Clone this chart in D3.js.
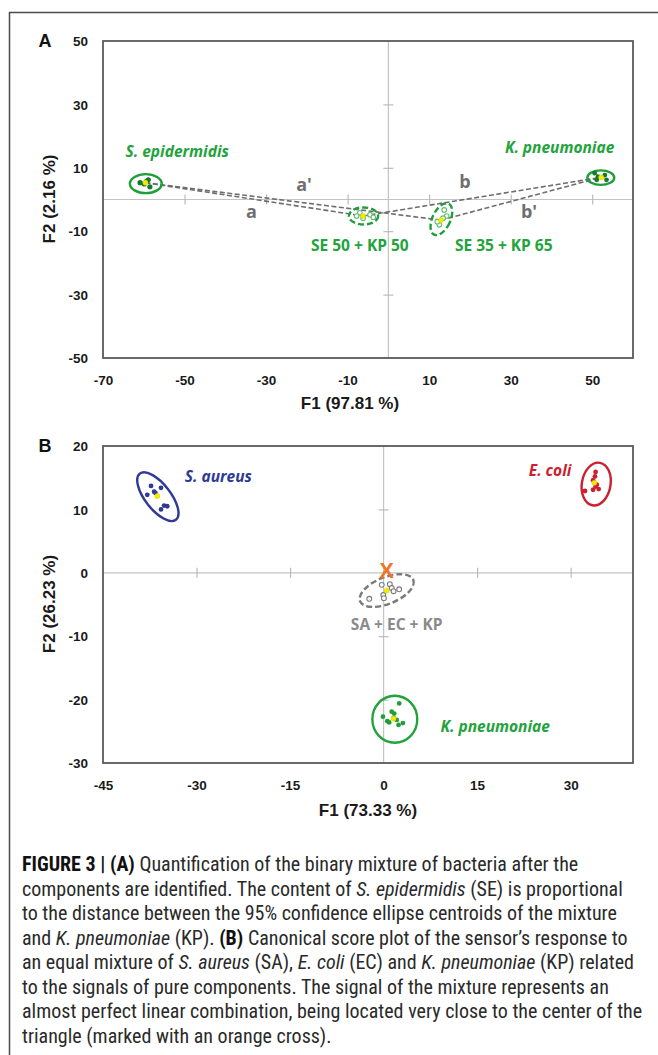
<!DOCTYPE html>
<html>
<head>
<meta charset="utf-8">
<script src="https://cdn.jsdelivr.net/npm/d3@7"></script>
<style>
  body { margin: 0; background: #fff; }
  svg { display: block; }
  .tick-lab text { font-family: "Liberation Sans", Arial, sans-serif; font-weight: bold; font-size: 13.5px; fill: #1a1a1a; }
  .ax-title { font-family: "Liberation Sans", Arial, sans-serif; font-weight: bold; font-size: 17px; fill: #1a1a1a; }
  .panel-letter { font-family: "Liberation Sans", Arial, sans-serif; font-weight: bold; font-size: 18px; fill: #111; }
  .grp-lab { font-family: "Open Sans", Lato, sans-serif; font-weight: bold; font-size: 15.5px; }
  .caption { font-family: "Liberation Sans Narrow", "Roboto Condensed", "Arial Narrow", sans-serif; font-size: 20px; fill: #2a2a2a; }
</style>
</head>
<body>
<script>
// ---------- panel A data (F1 97.81 %, F2 2.16 %) ----------
const aXTicks = [-70, -50, -30, -10, 10, 30, 50];
const aYTicks = [50, 30, 10, -10, -30, -50];
const aAxisTicksX = [-50, -30, -10, 10, 30, 50];
const aAxisTicksY = [30, 10, -10, -30];

const sePts = [[-60.9, 5.3], [-59.9, 4.9], [-58.9, 6.2], [-58.5, 4.0], [-59.3, 5.7]];
const kpPtsA = [[50.6, 8.3], [51.4, 7.2], [53.1, 7.7], [53.5, 6.2], [51.1, 6.2]];
const mix5050Pts = [[-7.0, -4.2], [-6.2, -5.9], [-4.5, -4.8], [-3.7, -5.6], [-7.8, -5.2]];
const mix3565Pts = [[13.7, -3.3], [14.3, -5.2], [12.5, -8.0], [12.0, -7.0], [13.4, -5.9]];

const centroidsA = [
  { id: "SE", x: -59.6, y: 5.3 },
  { id: "M5050", x: -6.2, y: -5.2 },
  { id: "M3565", x: 12.9, y: -6.5 },
  { id: "KP", x: 52.2, y: 7.0 }
];
const ellipsesA = [
  { id: "SE", cx: -59.5, cy: 5.0, rx: 3.9, ry: 3.0, rot: 0, dashed: false },
  { id: "KP", cx: 52.1, cy: 6.9, rx: 3.3, ry: 2.3, rot: 0, dashed: false },
  { id: "M5050", cx: -6.1, cy: -5.2, rx: 3.6, ry: 2.7, rot: 0, dashed: true },
  { id: "M3565", cx: 13.0, cy: -6.2, rx: 2.2, ry: 5.4, rot: 25, dashed: true }
];
const linksA = [["SE", "M5050"], ["M5050", "KP"], ["SE", "M3565"], ["M3565", "KP"]];
const labelsA = [
  { t: "S. epidermidis", x: -51.8, y: 15.0, italic: true, c: "#22a33b" },
  { t: "K. pneumoniae", x: 42.0, y: 16.3, italic: true, c: "#22a33b" },
  { t: "SE 50 + KP 50", x: -7.0, y: -14.4, italic: false, c: "#22a33b" },
  { t: "SE 35 + KP 65", x: 28.3, y: -14.4, italic: false, c: "#22a33b" }
];
const distLabels = [
  { t: "a", x: -33.6, y: -3.9 },
  { t: "a'", x: -20.7, y: 4.6 },
  { t: "b", x: 18.8, y: 5.6 },
  { t: "b'", x: 34.5, y: -3.9 }
];

// ---------- panel B data (F1 73.33 %, F2 26.23 %) ----------
const bXTicks = [-45, -30, -15, 0, 15, 30];
const bYTicks = [20, 10, 0, -10, -20, -30];
const bAxisTicksX = [-30, -15, 15, 30];
const bAxisTicksY = [10, -10, -20];

const saPts = [[-37.3, 13.7], [-35.7, 13.4], [-36.8, 12.8], [-37.9, 12.3], [-36.6, 12.6], [-35.2, 10.6], [-34.7, 10.5], [-35.7, 10.0]];
const ecPts = [[34.0, 15.9], [33.9, 15.2], [33.6, 14.6], [34.2, 13.9], [34.5, 13.2], [33.6, 13.1], [32.3, 12.9], [34.0, 13.6]];
const kpPtsB = [[2.5, -20.6], [-0.1, -22.7], [0.6, -23.4], [0.9, -23.6], [1.6, -22.9], [1.7, -22.2], [2.1, -23.2], [2.4, -24.0], [3.1, -23.7], [1.3, -21.9]];
const mixPtsB = [[-0.3, -1.9], [1.0, -1.8], [1.3, -2.4], [1.6, -2.9], [2.5, -2.6], [-0.05, -3.5], [0.05, -4.0], [-2.3, -4.1]];

const centroidsB = [
  { id: "SA", x: -36.3, y: 12.1 },
  { id: "EC", x: 33.8, y: 14.2 },
  { id: "KP", x: 1.6, y: -23.0 },
  { id: "MIX", x: 0.5, y: -2.8 }
];
const ellipsesB = [
  { id: "SA", cx: -36.2, cy: 12.0, rx: 4.7, ry: 2.0, rot: 52, dashed: false, c: "#2e3a94" },
  { id: "EC", cx: 34.1, cy: 14.0, rx: 2.3, ry: 3.4, rot: 10, dashed: false, c: "#cc1f2f" },
  { id: "KP", cx: 1.8, cy: -23.1, rx: 3.6, ry: 3.7, rot: 0, dashed: false, c: "#22a33b" },
  { id: "MIX", cx: 0.5, cy: -2.8, rx: 4.6, ry: 2.1, rot: -22, dashed: true, c: "#7a7a7a" }
];
const labelsB = [
  { t: "S. aureus", x: -26.5, y: 15.1, italic: true, c: "#2e3a94" },
  { t: "E. coli", x: 26.7, y: 16.2, italic: true, c: "#cc1f2f" },
  { t: "SA + EC + KP", x: 2.1, y: -8.1, italic: false, c: "#8a8a8a" },
  { t: "K. pneumoniae", x: 17.9, y: -24.2, italic: true, c: "#22a33b" }
];
const crossB = { x: 0.5, y: 0.45 };

// ---------- caption ----------
const captionLines = [
  [["b", "FIGURE 3 | (A)"], ["n", " Quantification of the binary mixture of bacteria after the"]],
  [["n", "components are identified. The content of "], ["i", "S. epidermidis"], ["n", " (SE) is proportional"]],
  [["n", "to the distance between the 95% confidence ellipse centroids of the mixture"]],
  [["n", "and "], ["i", "K. pneumoniae"], ["n", " (KP). "], ["b", "(B)"], ["n", " Canonical score plot of the sensor\u2019s response to"]],
  [["n", "an equal mixture of "], ["i", "S. aureus"], ["n", " (SA), "], ["i", "E. coli"], ["n", " (EC) and "], ["i", "K. pneumoniae"], ["n", " (KP) related"]],
  [["n", "to the signals of pure components. The signal of the mixture represents an"]],
  [["n", "almost perfect linear combination, being located very close to the center of the"]],
  [["n", "triangle (marked with an orange cross)."]]
];

const W = 658, H = 1055;
const svg = d3.select("body").append("svg").attr("width", W).attr("height", H);

// outer figure frame (top + left edges)
svg.append("path")
  .attr("d", `M9.5,${H} L9.5,12.5 L${W},12.5`)
  .attr("fill", "none").attr("stroke", "#4a4a4a").attr("stroke-width", 1.5);

function drawPanel(p) {
  const x = d3.scaleLinear().domain(p.xDom).range([p.box.left, p.box.right]);
  const y = d3.scaleLinear().domain(p.yDom).range([p.box.bottom, p.box.top]);
  const g = svg.append("g");

  // zero lines
  g.append("line").attr("x1", p.box.left).attr("x2", p.box.right)
    .attr("y1", y(0)).attr("y2", y(0)).attr("stroke", "#c4c4c4").attr("stroke-width", 1.2);
  g.append("line").attr("x1", x(0)).attr("x2", x(0))
    .attr("y1", p.box.top).attr("y2", p.box.bottom).attr("stroke", "#c4c4c4").attr("stroke-width", 1.2);

  // cross ticks on the zero lines
  const tx = g.append("g").attr("transform", `translate(0,${y(0) - 5})`)
    .call(d3.axisBottom(x).tickValues(p.axTicksX).tickSize(10).tickFormat(""));
  const ty = g.append("g").attr("transform", `translate(${x(0) + 5},0)`)
    .call(d3.axisLeft(y).tickValues(p.axTicksY).tickSize(10).tickFormat(""));
  [tx, ty].forEach(a => {
    a.select(".domain").remove();
    a.selectAll("line").attr("stroke", "#b5b5b5").attr("stroke-width", 1.1);
  });

  // plot border
  g.append("rect").attr("x", p.box.left).attr("y", p.box.top)
    .attr("width", p.box.right - p.box.left).attr("height", p.box.bottom - p.box.top)
    .attr("fill", "none").attr("stroke", "#5a5a5a").attr("stroke-width", 1.8);

  // tick labels (plain hyphen minus, as in the original)
  const fmt = d => String(d);
  const xl = g.append("g").attr("class", "tick-lab").attr("transform", `translate(0,${p.box.bottom})`)
    .call(d3.axisBottom(x).tickValues(p.xTicks).tickSize(0).tickFormat(fmt));
  xl.select(".domain").remove();
  xl.selectAll("text").attr("y", 22.5).attr("dy", "0.35em");
  const yl = g.append("g").attr("class", "tick-lab").attr("transform", `translate(${p.box.left},0)`)
    .call(d3.axisLeft(y).tickValues(p.yTicks).tickSize(0).tickFormat(fmt));
  yl.select(".domain").remove();
  yl.selectAll("text").attr("x", -15).attr("dy", "0.35em");

  // titles
  g.append("text").attr("class", "ax-title").attr("text-anchor", "middle")
    .attr("x", p.xTitlePos[0]).attr("y", p.xTitlePos[1]).attr("dy", "0.35em").text(p.xTitle);
  g.append("text").attr("class", "ax-title").attr("text-anchor", "middle")
    .attr("transform", `translate(${p.yTitlePos[0]},${p.yTitlePos[1]}) rotate(-90)`)
    .attr("dy", "0.35em").text(p.yTitle);
  g.append("text").attr("class", "panel-letter").attr("x", 45).attr("y", p.box.top)
    .attr("text-anchor", "middle").attr("dy", "0.35em").text(p.letter);

  return { x, y, g };
}

function drawEllipses(ctx, list, defColor) {
  ctx.g.selectAll(null).data(list).enter().append("ellipse")
    .attr("transform", d => `translate(${ctx.x(d.cx)},${ctx.y(d.cy)}) rotate(${d.rot})`)
    .attr("rx", d => ctx.x(d.cx + d.rx) - ctx.x(d.cx))
    .attr("ry", d => ctx.y(d.cy) - ctx.y(d.cy + d.ry))
    .attr("fill", "none")
    .attr("stroke", d => d.c || defColor)
    .attr("stroke-width", 2.4)
    .attr("stroke-dasharray", d => d.dashed ? "6,3" : null);
}

function drawDots(ctx, pts, color, hollow, r) {
  ctx.g.selectAll(null).data(pts).enter().append("circle")
    .attr("cx", d => ctx.x(d[0])).attr("cy", d => ctx.y(d[1]))
    .attr("r", r)
    .attr("fill", hollow ? "#fff" : color)
    .attr("stroke", hollow ? color : "none")
    .attr("stroke-width", 1.1);
}

function drawCentroids(ctx, list) {
  ctx.g.selectAll(null).data(list).enter().append("circle")
    .attr("cx", d => ctx.x(d.x)).attr("cy", d => ctx.y(d.y))
    .attr("r", 2.6).attr("fill", "#f3ec00").attr("stroke", "#c8c400").attr("stroke-width", 0.4);
}

function drawLabels(ctx, list) {
  ctx.g.selectAll(null).data(list).enter().append("text")
    .attr("class", "grp-lab")
    .attr("x", d => ctx.x(d.x)).attr("y", d => ctx.y(d.y))
    .attr("text-anchor", "middle").attr("dy", "0.35em")
    .style("font-style", d => d.italic ? "italic" : "normal")
    .attr("fill", d => d.c)
    .text(d => d.t);
}

// ---------- panel A ----------
const A = drawPanel({
  box: { left: 103, right: 633, top: 41, bottom: 358 },
  xDom: [-70, 60], yDom: [-50, 50],
  xTicks: aXTicks, yTicks: aYTicks, axTicksX: aAxisTicksX, axTicksY: aAxisTicksY,
  xTitle: "F1 (97.81 %)", yTitle: "F2 (2.16 %)",
  xTitlePos: [350, 403], yTitlePos: [49, 199], letter: "A"
});

const cA = {};
centroidsA.forEach(d => cA[d.id] = d);
A.g.selectAll(null).data(linksA).enter().append("line")
  .attr("x1", d => A.x(cA[d[0]].x)).attr("y1", d => A.y(cA[d[0]].y))
  .attr("x2", d => A.x(cA[d[1]].x)).attr("y2", d => A.y(cA[d[1]].y))
  .attr("stroke", "#6e6e6e").attr("stroke-width", 1.6).attr("stroke-dasharray", "5,2.5");

drawEllipses(A, ellipsesA, "#1f9e3a");
drawDots(A, sePts, "#137a2c", false, 2.6);
drawDots(A, kpPtsA, "#137a2c", false, 2.4);
drawDots(A, mix5050Pts, "#63bd70", true, 2.3);
drawDots(A, mix3565Pts, "#63bd70", true, 2.3);
drawCentroids(A, centroidsA);
drawLabels(A, labelsA);

A.g.selectAll(null).data(distLabels).enter().append("text")
  .attr("x", d => A.x(d.x)).attr("y", d => A.y(d.y))
  .attr("text-anchor", "middle").attr("dy", "0.35em")
  .style("font-family", "'Open Sans', Lato, sans-serif").style("font-weight", "bold")
  .style("font-size", "18px").attr("fill", "#6f6f6f")
  .text(d => d.t);

// ---------- panel B ----------
const B = drawPanel({
  box: { left: 103, right: 633, top: 446, bottom: 763 },
  xDom: [-45, 40], yDom: [-30, 20],
  xTicks: bXTicks, yTicks: bYTicks, axTicksX: bAxisTicksX, axTicksY: bAxisTicksY,
  xTitle: "F1 (73.33 %)", yTitle: "F2 (26.23 %)",
  xTitlePos: [368, 810], yTitlePos: [49, 604], letter: "B"
});

drawEllipses(B, ellipsesB, "#7a7a7a");
drawDots(B, saPts, "#2e3a94", false, 2.4);
drawDots(B, ecPts, "#cc1f2f", false, 2.4);
drawDots(B, kpPtsB, "#1f9e3a", false, 2.4);
drawDots(B, mixPtsB, "#7a7a7a", true, 2.4);
drawCentroids(B, centroidsB);
drawLabels(B, labelsB);

B.g.append("text")
  .attr("x", B.x(crossB.x)).attr("y", B.y(crossB.y))
  .attr("text-anchor", "middle").attr("dy", "0.36em")
  .style("font-family", "'Liberation Sans', Arial, sans-serif").style("font-weight", "bold")
  .style("font-size", "22px").attr("fill", "#f07425")
  .text("X");

// ---------- caption ----------
const cap = svg.append("g");
captionLines.forEach((line, i) => {
  const t = cap.append("text").attr("class", "caption").attr("x", 22).attr("y", 871 + i * 24.5);
  line.forEach(seg => {
    const s = t.append("tspan").text(seg[1]);
    if (seg[0] === "b") s.style("font-weight", "bold").attr("fill", "#111");
    if (seg[0] === "i") s.style("font-style", "italic");
  });
});
</script>
</body>
</html>
